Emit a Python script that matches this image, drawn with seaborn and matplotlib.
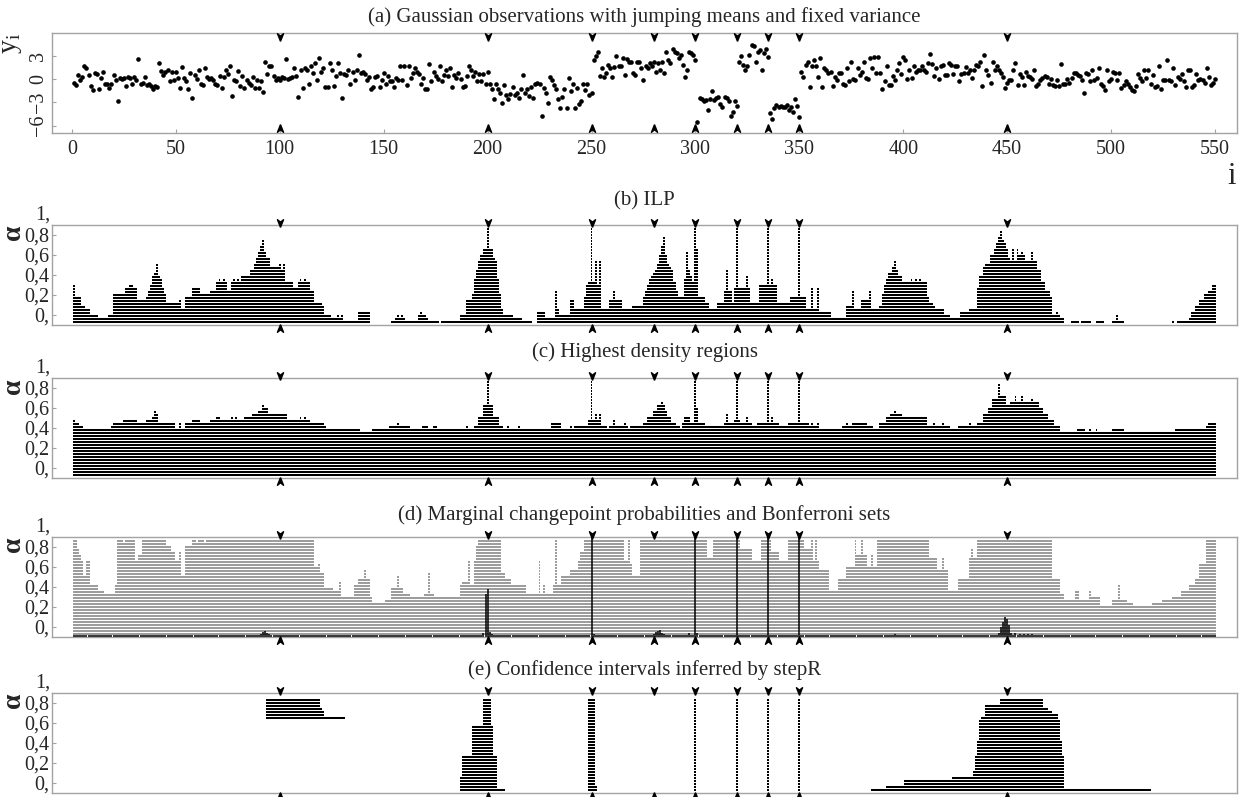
import numpy as np
import matplotlib.pyplot as plt
import seaborn as sns
from matplotlib.path import Path

# ---- data ----
N_OBS = 550

obs_y = [
    -0.5, -0.8, 0.5, -0.1, 0.2, 1.6, 1.4, 0.5, -0.9, -1.4,
    0.8, 0.6, -1.3, 0.1, 0.9, -0.6, -0.6, -1.2, -0.6, 0.5,
    -0.1, -2.9, 0.1, 0.0, 0.1, -0.9, 0.2, 0.1, -0.6, 0.2,
    -0.1, 2.5, -0.6, -0.5, 0.3, -0.8, -0.6, -0.9, -1.3, -0.9,
    -1.1, 2.1, 1.0, 0.5, 0.9, 1.1, -0.3, 0.9, -0.2, 0.9,
    0.1, -1.2, 1.5, 0.1, -0.3, -1.3, 0.8, -2.4, 0.5, 0.0,
    1.2, -0.6, -0.8, 1.4, 0.2, 0.0, 0.1, -0.1, -0.6, -0.8,
    0.4, -1.2, 0.3, 1.2, 0.6, 1.6, -2.2, -0.1, -0.3, 1.0,
    -0.9, 0.4, -1.2, -0.1, -0.5, -0.8, 0.3, -1.2, -0.2, -1.2,
    -0.3, -1.7, 2.2, 0.6, 1.6, 1.7, 0.4, -0.1, 0.1, -0.2,
    0.3, 0.1, 2.5, 0.0, 0.1, 0.2, 1.4, 0.4, -2.3, 1.2,
    -1.2, 1.4, 1.2, -0.6, 1.6, 0.8, 2.1, -0.1, 2.7, 0.9,
    1.4, -1.0, -1.0, 2.0, 1.1, -0.9, 0.4, 2.0, 0.8, -2.4,
    0.6, 0.5, 1.2, -0.6, 0.9, -0.1, 1.2, 3.1, 0.8, 0.9,
    0.6, -0.1, 0.2, -1.3, -1.1, 0.2, 0.4, -1.1, -0.1, 0.8,
    -0.6, 0.4, -0.3, -0.3, -1.0, 0.1, -0.2, 1.7, -0.1, 1.7,
    -0.8, 1.7, 0.1, 0.7, 1.4, 0.9, 0.6, -0.6, 0.1, -1.3,
    -1.3, 1.9, -0.3, 0.9, 0.4, 0.0, 1.6, -0.3, 0.5, 1.1,
    0.4, 1.4, -1.0, 0.5, 0.1, 0.8, 0.0, -1.0, -0.9, 0.4,
    1.7, 1.2, 0.4, 0.9, -0.3, 0.6, -0.3, 0.6, -0.6, 0.9,
    -0.6, -1.3, -2.6, -0.6, -1.3, -1.8, -3.1, -0.8, -2.1, -2.6,
    -1.9, -1.1, -2.1, -1.8, -2.4, -1.3, 0.5, -1.8, -1.3, -2.2,
    -1.0, -2.5, -0.6, -0.5, -0.6, -4.8, -1.2, -1.8, -3.1, 0.3,
    -0.1, -0.8, -1.3, -2.6, -3.8, -2.3, -1.3, -3.8, 0.1, -1.6,
    -0.6, -3.8, -1.2, -3.2, -2.9, -0.6, -1.4, -0.6, -2.1, -1.8,
    2.4, 2.9, 3.5, 0.4, 1.4, 0.3, 0.8, 1.8, 1.4, 0.2,
    1.5, 2.9, 1.6, 1.6, 2.7, 0.5, 2.5, 2.2, 2.2, 0.7,
    0.5, 2.2, 2.2, 1.4, -0.1, 1.7, 1.4, 2.0, 1.7, 2.2,
    0.9, 2.0, 1.2, 2.2, 0.8, 3.5, 2.4, 2.0, 3.9, 3.4,
    3.3, 2.7, 3.1, 1.8, 0.3, 1.2, 3.4, 3.3, 3.1, 2.4,
    -5.5, -2.5, -2.6, -2.9, -2.7, -4.0, -2.6, -1.6, -2.7, -2.5,
    -2.3, -3.2, -3.6, -2.3, -2.5, -2.9, -4.8, -4.2, -2.8, -3.5,
    2.2, 2.9, 1.8, 1.2, 1.6, 3.1, 4.4, 4.2, 2.2, 3.4,
    3.7, 1.2, 3.3, 3.8, 2.8, -4.4, -5.1, -3.8, -3.3, -3.6,
    -3.5, -3.6, -3.6, -3.3, -4.0, -3.6, -4.3, -2.6, -3.5, -4.9,
    0.9, 0.3, 1.8, 2.2, -1.1, 1.6, 2.4, 1.6, 0.3, 2.7,
    -1.1, 1.4, 1.2, 0.7, 0.9, -0.9, 0.2, -0.1, 0.8, 0.7,
    -0.6, -0.8, 1.4, -0.3, 2.2, 0.0, -0.2, 1.4, 0.5, 0.9,
    2.2, 0.1, 0.0, 2.7, 1.4, 2.8, 0.7, 2.8, 0.8, -1.3,
    -0.3, 1.6, -0.8, -0.8, 0.4, -0.1, 1.2, 2.0, 0.6, 2.8,
    2.4, 0.0, 1.1, 0.1, 1.7, 0.9, 1.1, 1.2, 1.6, 1.2,
    0.9, 2.0, 3.2, 1.9, 0.4, 1.4, 0.0, 1.6, 1.8, 0.5,
    0.5, 2.1, 1.8, 0.6, 1.7, 1.6, -0.3, 0.6, 0.8, 1.5,
    0.8, 1.2, 0.1, 1.2, 1.8, 1.6, 2.2, -0.9, 3.1, 1.2,
    0.5, -0.5, 2.2, 1.2, 1.6, 1.1, 0.8, 0.3, -1.2, -0.5,
    -0.1, -0.2, 1.2, 2.0, -0.8, 0.6, 0.2, -0.8, 0.9, 0.4,
    0.3, 0.0, 1.2, -0.9, -0.6, -0.2, 0.1, 0.4, 0.3, -0.6,
    0.0, -0.8, -0.9, -0.1, -0.9, 1.9, -0.6, -0.6, 0.0, -0.5,
    0.1, 0.7, 0.8, 0.5, 0.4, -0.1, -1.8, 0.7, 0.6, -0.3,
    1.2, -0.1, 0.1, 1.4, -0.6, -0.9, -1.4, 1.1, -0.3, 0.0,
    0.9, 0.8, -0.1, 0.8, -1.2, -0.8, -0.3, -0.6, -1.1, -1.4,
    -1.5, -0.9, 0.6, 0.1, -0.3, 1.1, 0.1, 1.2, -0.6, 0.5,
    -1.1, -0.9, 1.6, -1.3, -0.1, -0.1, 2.4, -0.2, -0.3, 1.4,
    -0.8, 0.2, 0.0, 0.6, -0.3, -1.1, 1.2, 1.2, -1.1, -0.8,
    0.6, -0.2, 0.0, -0.1, -0.5, 1.4, 0.2, -0.8, -0.5, 0.0,
]

true_changepoints = [100, 200, 250, 280, 300, 320, 335, 350, 450]

# alpha value of every confidence level drawn as one line row
alpha_levels = [-0.067, -0.037, -0.007, 0.023, 0.053, 0.083, 0.113, 0.143,
                0.173, 0.203, 0.233, 0.263, 0.293, 0.323, 0.353, 0.383,
                0.413, 0.443, 0.473, 0.503, 0.533, 0.563, 0.593, 0.623,
                0.653, 0.683, 0.713, 0.743, 0.773, 0.803, 0.833, 0.863]

# (first i, last i, number of levels covered) -- later entries override
ilp_runs = [
    (1, 1, 13), (2, 4, 9), (5, 6, 6), (7, 8, 5), (9, 11, 3), (12, 18, 2), (12, 12, 3), (18, 18, 3), (19, 19, 3),
    (20, 25, 10), (26, 31, 12), (28, 29, 13), (32, 35, 8), (36, 36, 9), (37, 37, 11), (38, 38, 13), (39, 39, 16),
    (40, 40, 17), (41, 41, 20), (42, 42, 16), (43, 43, 15), (44, 44, 12), (45, 45, 10),
    (46, 51, 7), (52, 52, 8), (53, 54, 5), (55, 57, 9), (58, 61, 12), (62, 66, 10), (67, 69, 11), (70, 74, 14),
    (71, 71, 15), (73, 73, 15), (75, 76, 11), (77, 81, 14), (78, 78, 15), (80, 80, 15),
    (82, 85, 16), (86, 87, 18), (88, 88, 20), (89, 89, 22), (90, 90, 24), (91, 91, 26), (92, 92, 28), (93, 93, 24),
    (94, 95, 22), (96, 99, 19), (100, 102, 18), (100, 100, 20), (102, 102, 20),
    (103, 106, 14), (107, 108, 12), (109, 114, 14), (110, 110, 15), (112, 112, 15), (115, 116, 11), (117, 120, 7),
    (121, 121, 6), (122, 124, 3), (125, 130, 2), (128, 128, 3), (130, 130, 3),
    (131, 137, 1), (138, 143, 4), (154, 155, 1), (156, 160, 2), (157, 157, 3), (159, 159, 3), (161, 166, 1),
    (167, 167, 3), (168, 168, 4), (169, 170, 3), (171, 171, 2), (172, 176, 1), (178, 186, 1), (187, 189, 3),
    (190, 192, 8), (193, 193, 10), (194, 194, 15), (195, 195, 18), (196, 196, 21), (197, 197, 23), (198, 199, 25),
    (200, 200, 32), (201, 202, 25), (203, 203, 22), (204, 204, 21), (205, 205, 15), (206, 206, 10), (207, 207, 5),
    (208, 212, 3), (213, 216, 2), (217, 221, 1),
    (224, 227, 4), (228, 232, 2), (233, 233, 11), (234, 234, 5), (235, 239, 3), (240, 241, 8), (242, 246, 5),
    (247, 247, 9), (248, 248, 13), (249, 249, 14), (250, 250, 32), (251, 251, 14), (252, 252, 21), (253, 253, 13),
    (254, 254, 21), (255, 258, 5), (259, 260, 8), (261, 261, 11), (262, 264, 8), (265, 269, 5), (270, 274, 6),
    (275, 275, 9), (276, 276, 11), (277, 277, 13), (278, 278, 15), (279, 279, 16), (280, 280, 17), (281, 281, 18),
    (282, 282, 20), (283, 283, 23), (284, 284, 26), (285, 285, 29), (286, 286, 23), (287, 287, 20), (288, 288, 19),
    (289, 289, 18), (290, 290, 14), (291, 291, 11), (292, 294, 9),
    (295, 295, 15), (296, 296, 24), (297, 297, 18), (298, 298, 16), (299, 299, 14), (300, 300, 32), (301, 301, 25),
    (302, 304, 9), (305, 306, 7), (307, 310, 5), (311, 313, 7), (314, 314, 11), (315, 315, 18), (316, 317, 11),
    (318, 318, 7), (319, 319, 12), (320, 320, 32), (321, 324, 12), (325, 325, 16), (326, 326, 12), (327, 330, 7),
    (331, 339, 13), (335, 335, 32), (337, 337, 15), (340, 345, 7), (346, 349, 9), (350, 350, 32), (351, 353, 9),
    (354, 355, 5), (356, 356, 12), (357, 358, 5), (359, 359, 12), (360, 365, 4), (366, 372, 2), (373, 375, 6),
    (376, 376, 11), (377, 379, 5), (380, 383, 8), (384, 384, 11), (385, 388, 5),
    (389, 389, 6), (390, 390, 10), (391, 391, 13), (392, 392, 15), (393, 394, 17), (395, 395, 19), (396, 396, 21),
    (397, 397, 18), (398, 399, 16), (400, 411, 14), (404, 404, 15), (406, 406, 15), (408, 408, 15), (412, 412, 9),
    (413, 414, 7), (415, 415, 6), (416, 419, 5), (420, 422, 3), (423, 427, 2), (428, 431, 4), (432, 435, 5),
    (436, 436, 12), (437, 438, 16), (439, 439, 19), (440, 441, 20), (442, 443, 23), (444, 444, 25), (445, 445, 27),
    (446, 446, 29), (447, 447, 31), (448, 448, 28), (449, 449, 27), (450, 450, 25), (451, 451, 22), (452, 455, 21),
    (453, 453, 25), (455, 455, 25), (456, 458, 23), (457, 457, 24), (459, 464, 21), (462, 462, 24), (465, 466, 18),
    (467, 468, 14), (469, 470, 11), (471, 471, 9), (472, 475, 3), (474, 474, 4), (476, 477, 2),
    (481, 484, 1), (486, 490, 1), (493, 496, 1), (501, 502, 1), (503, 503, 3), (504, 506, 1), (530, 530, 1),
    (532, 537, 1), (538, 538, 2), (539, 540, 4), (541, 542, 6), (543, 544, 8), (545, 546, 10), (547, 548, 11),
    (549, 550, 13),
]

hdr_runs = [
    (1, 550, 16),
    (1, 1, 19), (2, 3, 18), (4, 5, 17), (19, 19, 17), (20, 24, 18), (25, 31, 19), (32, 35, 18), (36, 38, 19),
    (39, 39, 20), (40, 40, 22), (41, 41, 21), (42, 49, 18), (52, 52, 18), (55, 57, 18), (58, 61, 19), (62, 66, 18),
    (67, 69, 19), (70, 71, 20), (72, 82, 19), (77, 77, 20), (79, 79, 20),
    (83, 86, 20), (87, 89, 21), (90, 91, 22), (92, 92, 24), (93, 94, 23), (95, 103, 21), (104, 108, 19),
    (109, 114, 19), (110, 110, 20), (112, 112, 20), (115, 121, 18), (122, 122, 17), (139, 144, 15), (153, 162, 17),
    (157, 157, 18),
    (169, 171, 17), (174, 175, 17), (190, 190, 17), (194, 195, 17), (196, 197, 20), (198, 199, 24), (200, 200, 32),
    (201, 202, 24), (203, 205, 20), (206, 207, 17), (210, 210, 17), (215, 215, 17), (231, 235, 18), (240, 240, 17),
    (242, 248, 17), (249, 254, 19), (250, 250, 32), (252, 252, 21), (254, 254, 21), (255, 257, 17), (259, 267, 17),
    (261, 261, 19), (266, 266, 18), (269, 274, 17), (275, 290, 18), (277, 288, 20), (280, 286, 22), (282, 285, 24),
    (284, 284, 25), (291, 292, 17),
    (294, 304, 18), (295, 297, 20), (300, 300, 32), (301, 301, 23), (305, 313, 17), (314, 327, 18), (315, 315, 21),
    (319, 321, 19), (320, 320, 32), (325, 325, 20), (328, 329, 17), (330, 340, 18), (335, 335, 32), (337, 337, 20),
    (341, 344, 17), (345, 354, 18), (350, 350, 32), (355, 359, 17), (356, 356, 18), (359, 359, 18),
    (371, 385, 17), (373, 373, 18), (376, 382, 18), (389, 422, 17), (389, 411, 18), (392, 401, 20), (394, 399, 21),
    (396, 396, 22), (401, 411, 20), (415, 415, 18), (419, 419, 18),
    (427, 475, 17), (432, 432, 18), (436, 438, 18), (439, 440, 21), (441, 442, 23), (443, 445, 26), (446, 446, 31),
    (447, 449, 27), (450, 451, 24), (452, 465, 25), (454, 454, 27), (457, 457, 27), (462, 462, 26), (466, 467, 23),
    (468, 469, 21), (470, 472, 19),
    (476, 483, 15), (488, 489, 15), (491, 492, 15), (494, 500, 15), (507, 530, 15), (546, 546, 17), (547, 550, 18),
]

bonf_runs = [
    (1, 2, 32), (3, 3, 29), (4, 4, 27), (5, 5, 25), (6, 6, 20), (7, 8, 25), (9, 12, 17), (13, 15, 15), (16, 20, 14),
    (21, 21, 17), (22, 24, 32), (25, 25, 31), (26, 30, 32), (31, 31, 25), (32, 33, 27), (34, 45, 32), (46, 47, 30),
    (48, 49, 28), (50, 51, 25), (52, 52, 28), (53, 54, 20), (55, 57, 30), (58, 59, 32), (60, 60, 31), (61, 63, 32),
    (64, 64, 31), (65, 116, 32),
    (117, 118, 23), (119, 119, 24), (120, 121, 21), (122, 125, 16), (126, 128, 15), (129, 129, 18), (130, 135, 13),
    (136, 137, 17), (138, 140, 19), (141, 141, 22), (142, 143, 19), (144, 144, 13), (145, 150, 11), (151, 153, 12),
    (154, 156, 16), (157, 157, 20), (158, 159, 16), (160, 162, 14), (163, 169, 13), (170, 171, 14), (172, 172, 21),
    (173, 174, 14), (175, 186, 13),
    (187, 187, 17), (188, 190, 18), (191, 191, 25), (192, 193, 17), (194, 194, 25), (195, 195, 30), (196, 206, 32),
    (207, 208, 21), (209, 211, 19), (212, 218, 17), (219, 224, 14), (225, 225, 25), (226, 226, 14), (227, 227, 17),
    (228, 231, 14), (232, 232, 17), (233, 233, 32), (234, 235, 17), (236, 239, 20), (240, 243, 22), (244, 244, 25),
    (245, 246, 28), (247, 265, 32),
    (266, 267, 25), (268, 268, 32), (269, 269, 24), (270, 273, 20), (274, 305, 32), (306, 308, 26), (309, 321, 32),
    (322, 327, 29), (328, 331, 25), (332, 336, 32), (337, 340, 28), (341, 344, 25), (345, 352, 32), (353, 355, 29),
    (356, 356, 32), (357, 357, 25), (358, 358, 32), (359, 359, 25), (360, 364, 22), (365, 368, 15), (369, 372, 19),
    (373, 376, 23), (377, 377, 32), (378, 379, 27), (380, 380, 32), (381, 382, 27), (383, 387, 23), (385, 385, 27),
    (388, 412, 32), (413, 416, 26), (417, 418, 22), (419, 419, 26), (420, 421, 22), (422, 426, 15), (427, 431, 19),
    (432, 432, 26), (433, 433, 29), (434, 435, 26), (436, 471, 32), (472, 475, 19), (476, 477, 14), (478, 482, 12),
    (483, 484, 15), (485, 489, 12), (490, 490, 15), (491, 494, 13), (495, 500, 10), (501, 503, 12), (504, 504, 17),
    (505, 507, 12), (508, 510, 11), (511, 519, 10), (520, 524, 11), (525, 529, 12), (530, 533, 13), (534, 537, 15),
    (538, 540, 17), (541, 542, 19), (543, 545, 24), (546, 550, 32),
]

# marginal changepoint probabilities (all others sit at the floor value)
marg_floor = 0.02
marg_i = [91, 92, 93, 94, 95, 198, 199, 200, 201, 202, 250, 251,
          280, 281, 282, 283, 284, 285, 297, 300, 301, 320, 335, 350, 396,
          446, 447, 448, 449, 450, 451, 452, 454, 456, 458, 460, 462]
marg_p = [0.03, 0.05, 0.06, 0.04, 0.03, 0.04, 0.43, 0.48, 0.05, 0.03, 1.0, 0.03,
          0.03, 0.05, 0.06, 0.07, 0.04, 0.03, 0.04, 1.0, 0.04, 1.0, 1.0, 1.0, 0.03,
          0.04, 0.10, 0.15, 0.20, 0.18, 0.12, 0.04, 0.04, 0.035, 0.035, 0.03, 0.03]

# stepR intervals: (first level, last level, left i, right i)
stepr_bands = [
    (24, 24, 94, 131), (25, 26, 94, 121), (27, 27, 94, 120), (28, 30, 94, 119),
    (0, 0, 187, 208), (1, 4, 187, 204), (5, 11, 188, 204), (12, 21, 193, 202), (22, 30, 198, 201),
    (0, 1, 249, 252), (2, 30, 249, 251),
    (0, 30, 300, 300), (0, 30, 320, 320), (0, 30, 335, 335), (0, 30, 350, 350),
    (0, 0, 385, 519), (1, 1, 392, 477), (2, 3, 401, 477), (4, 4, 424, 477), (5, 6, 434, 477),
    (7, 11, 435, 477), (12, 16, 436, 476), (17, 23, 437, 475), (24, 24, 438, 474), (25, 25, 440, 474),
    (26, 26, 440, 471), (27, 27, 440, 469), (28, 28, 440, 467), (29, 30, 447, 467),
]

titles = ["(a) Gaussian observations with jumping means and fixed variance",
          "(b) ILP",
          "(c) Highest density regions",
          "(d) Marginal changepoint probabilities and Bonferroni sets",
          "(e) Confidence intervals inferred by stepR"]
alpha_ticks = [0.0, 0.2, 0.4, 0.6, 0.8]
alpha_ticklabels = ["0,", "0,2", "0,4", "0,6", "0,8"]

# ---- drawing ----
sns.set_style("white")
plt.rcParams["font.family"] = ["Liberation Serif", "DejaVu Serif"]
plt.rcParams["mathtext.fontset"] = "custom"
plt.rcParams["mathtext.rm"] = "Liberation Serif"
plt.rcParams["axes.unicode_minus"] = True

W, H = 1239, 797
FS = 14.5
FRAME = "#a3a3a3"
obs_i = np.arange(1, len(obs_y) + 1)


def runs_to_heights(runs):
    h = np.zeros(N_OBS + 1, dtype=int)
    for a, b, v in runs:
        h[a:b + 1] = v
    return h[1:]


def draw_levels(ax, heights, color, lw):
    for k, alpha in enumerate(alpha_levels):
        on = np.r_[0, (heights > k).astype(int), 0]
        edges = np.flatnonzero(np.diff(on))
        lo, hi = edges[::2] + 1, edges[1::2]
        if len(lo):
            ax.hlines(np.full(len(lo), alpha), lo - 0.45, hi + 0.45,
                      colors=color, lw=lw, capstyle="butt")


down_arrow = Path([(0, -1), (-0.8, 1), (0, 0.35), (0.8, 1), (0, -1)])
up_arrow = Path([(0, 1), (-0.8, -1), (0, -0.35), (0.8, -1), (0, 1)])


def mark_changepoints(ax, y_top, y_bot):
    tr = ax.get_xaxis_transform()
    n = len(true_changepoints)
    ax.plot(true_changepoints, [y_top] * n, transform=tr, ls="none", marker=down_arrow,
            ms=5.5, color="black", clip_on=False, zorder=5)
    ax.plot(true_changepoints, [y_bot] * n, transform=tr, ls="none", marker=up_arrow,
            ms=5.5, color="black", clip_on=False, zorder=5)


def style_frame(ax):
    for sp in ax.spines.values():
        sp.set_color(FRAME)
        sp.set_linewidth(1.0)
    ax.set_xlim(-9.6, 560.6)


fig = plt.figure(figsize=(W / 100, H / 100), dpi=100)
frame_tops = [33, 225, 378, 537, 693]
title_centers = [17, 201, 352, 515, 670]
left, right = 52, 1237
axes = []
for top in frame_tops:
    axes.append(fig.add_axes([left / W, 1 - (top + 100) / H, (right - left) / W, 100 / H]))
for yc, t in zip(title_centers, titles):
    fig.text((left + right) / 2 / W, 1 - yc / H, t, ha="center", va="center", fontsize=15)

# (a) observations
ax = axes[0]
sns.scatterplot(x=obs_i, y=obs_y, ax=ax, s=11, color="black", linewidth=0)
style_frame(ax)
ax.set_ylim(-6.95, 5.9)
ax.set_xticks(range(0, 551, 50))
ax.set_yticks([-6, -3, 0, 3])
ax.tick_params(axis="x", bottom=True, direction="in", length=3, color=FRAME, labelsize=FS, pad=5)
ax.tick_params(axis="y", left=True, direction="in", length=3, color=FRAME, labelsize=FS,
               labelrotation=90, pad=3)
for lab in ax.get_yticklabels():
    lab.set_va("center")
ax.set_ylabel(r"$\mathrm{y}_\mathrm{i}$", fontsize=20, loc="top", rotation=90)
ax.yaxis.set_label_coords(-0.024, 1.0)
mark_changepoints(ax, 0.957, 0.047)
fig.text(1232 / W, 1 - 176 / H, "i", fontsize=22, ha="center", va="center")

# (b)-(e) confidence sets on the alpha grid
for ax in axes[1:]:
    style_frame(ax)
    ax.set_ylim(-0.1, 0.9)
    ax.set_xticks([])
    ax.set_yticks(alpha_ticks)
    ax.set_yticklabels(alpha_ticklabels)
    ax.tick_params(axis="y", left=True, direction="in", length=3, color=FRAME, labelsize=FS, pad=2)
    ax.text(-0.0017, 1.0, "1,", transform=ax.get_yaxis_transform(), ha="right", va="center",
            fontsize=FS)
    ax.set_ylabel("α", fontsize=20, fontweight="bold", loc="top")
    ax.yaxis.set_label_coords(-0.022, 1.0)
    mark_changepoints(ax, 1.023, -0.033)

draw_levels(axes[1], runs_to_heights(ilp_runs), "black", 1.45)
draw_levels(axes[2], runs_to_heights(hdr_runs), "black", 1.45)
draw_levels(axes[3], runs_to_heights(bonf_runs), "#8a8a8a", 1.2)

marg = np.full(N_OBS, marg_floor)
marg[np.array(marg_i) - 1] = marg_p
axes[3].vlines(obs_i, -0.1, -0.1 + marg, colors="black", lw=1.1, capstyle="butt", zorder=3)

for k0, k1, lo, hi in stepr_bands:
    ys = alpha_levels[k0:k1 + 1]
    axes[4].hlines(ys, lo - 0.45, hi + 0.45, colors="black", lw=1.45, capstyle="butt")

fig.savefig("out.png", dpi=100)
